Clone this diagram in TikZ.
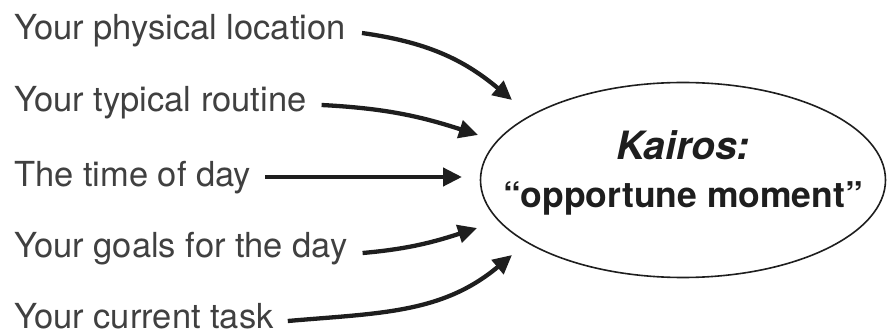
\documentclass[tikz,border=0pt]{standalone}
\usepackage{fontspec}
\setmainfont{TeX Gyre Heros}
\usetikzlibrary{shapes.geometric,arrows.meta}
\definecolor{labelgray}{HTML}{404040}
\definecolor{ink}{HTML}{1E1E1E}
\begin{document}
\begin{tikzpicture}[x=1pt,y=1pt,
  lab/.style={anchor=base west,inner sep=0pt,text=labelgray,font=\fontsize{34.5}{38}\selectfont},
  conn/.style={draw=ink,line width=4.3pt,-{Triangle[length=19pt,width=18pt]}},
  kbox/.style={draw=ink,ellipse,line width=1.6pt,minimum width=405pt,minimum height=195pt,inner sep=0pt},
  ktext/.style={inner sep=0pt,align=center,text=ink}]
\useasboundingbox (0,0) rectangle (887,335);
\node[lab] (l1) at (14,295) {Your physical location};
\node[lab] (l2) at (14,223) {Your typical routine};
\node[lab] (l3) at (14,148) {The time of day};
\node[lab] (l4) at (14,77) {Your goals for the day};
\node[lab] (l5) at (14,6) {Your current task};
\node[kbox] (k) at (683,155) {};
\node[ktext] (kt) at ([yshift=7pt]k.center) {{\fontsize{39}{40}\selectfont\bfseries\itshape Kairos:}\\[21pt]{\fontsize{35.5}{40}\selectfont\bfseries “opportune moment”}};
\coordinate (t1) at (512,235);
\coordinate (t2) at (478,200);
\coordinate (t3) at (462,158);
\coordinate (t4) at (477,107);
\coordinate (t5) at (512,80);
\draw[conn] ([xshift=16pt,yshift=7pt]l1.base east) to[out=-8,in=140] (t1);
\draw[conn] ([xshift=15pt,yshift=7pt]l2.base east) to[out=-3,in=162] (t2);
\draw[conn] ([xshift=14pt,yshift=10pt]l3.base east) -- (t3);
\draw[conn] ([xshift=15pt,yshift=5pt]l4.base east) to[out=5,in=198] (t4);
\draw[conn] ([xshift=14pt,yshift=8pt]l5.base east) to[out=5,in=220] (t5);
\end{tikzpicture}
\end{document}
